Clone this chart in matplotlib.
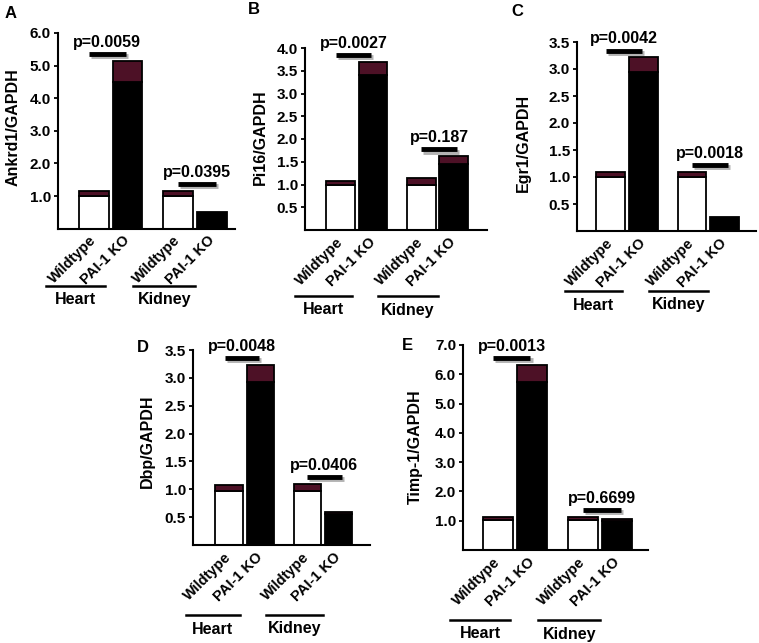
import matplotlib
matplotlib.use("Agg")
import matplotlib.pyplot as plt
import matplotlib.patheffects as pe
from matplotlib.transforms import blended_transform_factory, offset_copy

plt.rcParams["font.family"] = ["Liberation Sans", "DejaVu Sans"]
plt.rcParams["font.weight"] = "bold"

# data
panel_letters = ["A", "B", "C", "D", "E"]
ylabels = ["Ankrd1/GAPDH", "Pi16/GAPDH", "Egr1/GAPDH", "Dbp/GAPDH", "Timp-1/GAPDH"]
bar_labels = ["Wildtype", "PAI-1 KO", "Wildtype", "PAI-1 KO"]
groups = ["Heart", "Kidney"]

# order: WT heart, KO heart, WT kidney, KO kidney
means = [
    [1.00, 4.50, 1.00, 0.50],
    [1.00, 3.40, 1.00, 1.45],
    [1.00, 2.94, 1.00, 0.26],
    [0.97, 2.92, 0.97, 0.55],
    [1.04, 5.75, 1.04, 0.99],
]
errors = [
    [0.15, 0.65, 0.15, 0.00],
    [0.08, 0.30, 0.15, 0.18],
    [0.10, 0.28, 0.10, 0.00],
    [0.10, 0.31, 0.13, 0.05],
    [0.08, 0.57, 0.08, 0.08],
]
pvalues = [
    ["p=0.0059", "p=0.0395"],
    ["p=0.0027", "p=0.187"],
    ["p=0.0042", "p=0.0018"],
    ["p=0.0048", "p=0.0406"],
    ["p=0.0013", "p=0.6699"],
]
ymax = [6.0, 4.0, 3.5, 3.5, 7.0]
ytick_step = [1.0, 0.5, 0.5, 0.5, 1.0]

# layout (pixels in the 759x643 figure)
W, H = 759, 643
boxes = [(58, 33, 235, 228.6), (305, 48, 487, 230), (577, 42, 756, 231),
         (193, 350, 370, 545), (463, 345, 648, 550)]
xlims = [(-0.05, 5.17), (-0.10, 5.53), (-0.03, 5.46), (-0.16, 5.51), (-0.03, 5.40)]
group_drop = [57, 66, 60, 70, 70]
letter_pos = [(11, 13), (254, 10), (517, 11), (143, 347), (407, 346)]
ylabel_pos = [(13, 127), (260, 137), (523, 143), (147, 441), (415, 447)]

xpos = [1.0, 2.0, 3.5, 4.5]
fills = ["white", "black", "white", "black"]
maroon = "#4D1126"
sig_dx = [(-0.15, -0.05), (0.0, 0.1)]
group_span = [(-0.4, 1.35), (2.17, 4.0)]

fig = plt.figure(figsize=(W / 100, H / 100), dpi=100)

for k in range(5):
    l, t, r, b = boxes[k]
    ax = fig.add_axes([l / W, 1 - b / H, (r - l) / W, (b - t) / H])

    ax.bar(xpos, means[k], 0.88, color=fills, edgecolor="black", linewidth=1.3)
    idx = [i for i in range(4) if errors[k][i] > 0]
    ax.bar([xpos[i] for i in idx], [errors[k][i] for i in idx], 0.88,
           bottom=[means[k][i] for i in idx], color=maroon, edgecolor="black", linewidth=1.3)

    ax.set_xlim(*xlims[k])
    ax.set_ylim(0, ymax[k])
    n = int(round(ymax[k] / ytick_step[k]))
    ticks = [ytick_step[k] * (i + 1) for i in range(n)]
    ax.set_yticks(ticks)
    ax.set_yticklabels([f"{v:.1f}" for v in ticks], fontsize=11, fontweight="bold")
    ax.set_xticks(xpos)
    ax.set_xticklabels(bar_labels, rotation=45, ha="right", va="center",
                       rotation_mode="anchor", fontsize=10.5, fontweight="bold")
    ax.tick_params(axis="x", length=0, pad=7)
    ax.tick_params(axis="y", length=3, width=1.3, pad=2)
    for s in ["top", "right"]:
        ax.spines[s].set_visible(False)
    for s in ["left", "bottom"]:
        ax.spines[s].set_linewidth(1.5)

    # significance bars
    for g in range(2):
        i, j = 2 * g, 2 * g + 1
        top = max(means[k][i] + errors[k][i], means[k][j] + errors[k][j])
        y = top + 0.035 * ymax[k]
        x0, x1 = xpos[i] + sig_dx[g][0], xpos[j] + sig_dx[g][1]
        ax.plot([x0, x1], [y, y], color="black", lw=3.5, solid_capstyle="butt", clip_on=False,
                path_effects=[pe.SimpleLineShadow(offset=(1.5, -1.5), shadow_color="gray", alpha=0.6),
                              pe.Normal()])
        ax.annotate(pvalues[k][g], xy=((x0 + x1) / 2, y), xytext=(0, 3), textcoords="offset points",
                    ha="center", va="bottom", fontsize=11.5, fontweight="bold")

    # group underlines
    line_tr = blended_transform_factory(ax.transData,
                                        offset_copy(ax.transAxes, fig=fig, y=-group_drop[k], units="dots"))
    text_tr = blended_transform_factory(ax.transData,
                                        offset_copy(ax.transAxes, fig=fig, y=-group_drop[k] - 14, units="dots"))
    for g in range(2):
        a, c = group_span[g]
        ax.plot([a, c], [0, 0], color="black", lw=1.8, transform=line_tr, clip_on=False)
        ax.text((a + c) / 2, 0, groups[g], transform=text_tr, ha="center", va="center",
                fontsize=11.5, fontweight="bold")

    lx, ly = letter_pos[k]
    fig.text(lx / W, 1 - ly / H, panel_letters[k], ha="center", va="center", fontsize=12, fontweight="bold")
    yx, yy = ylabel_pos[k]
    fig.text(yx / W, 1 - yy / H, ylabels[k], rotation=90, ha="center", va="center",
             fontsize=11.5, fontweight="bold")

fig.savefig("out.png", dpi=100)
